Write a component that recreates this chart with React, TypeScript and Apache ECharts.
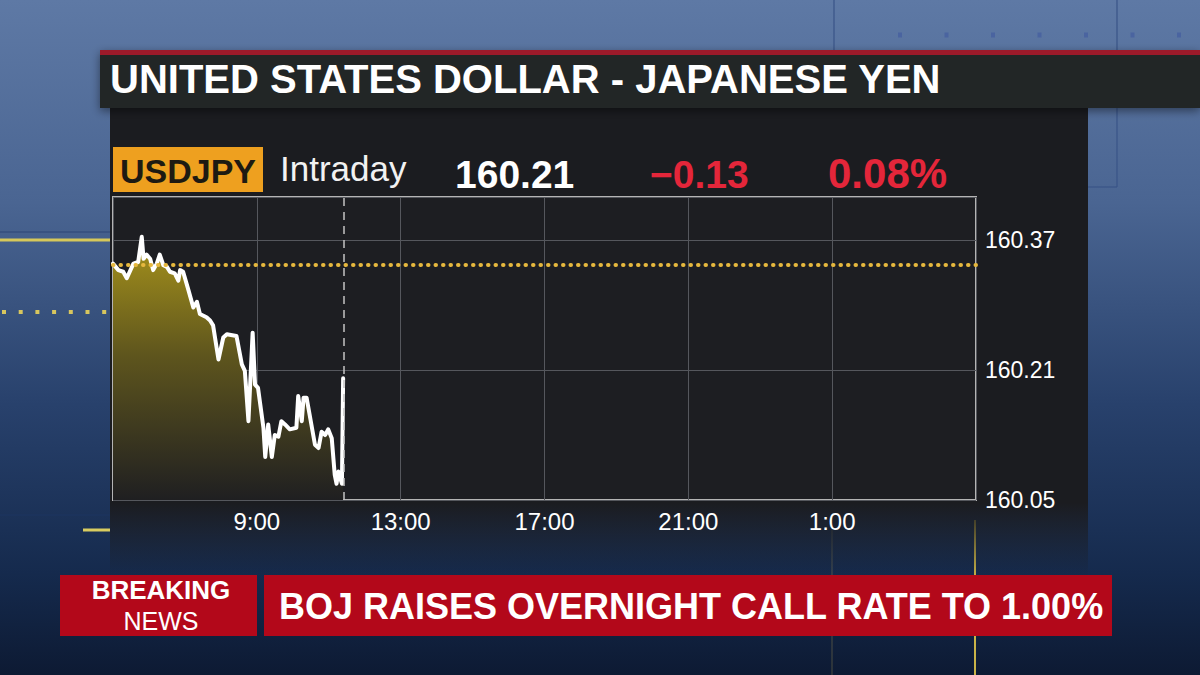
import React, { useEffect, useRef } from "react";
import * as echarts from "echarts";

// ---- Data ----
const times = [
  "05:00", "05:09", "05:17", "05:23", "05:34", "05:42", "05:48", "05:51", "05:56", "06:02",
  "06:07", "06:13", "06:18", "06:24", "06:30", "06:35", "06:43", "06:49", "06:52", "06:57",
  "07:06", "07:14", "07:20", "07:25", "07:36", "07:42", "07:47", "07:56", "08:04", "08:10",
  "08:26", "08:35", "08:40", "08:46", "08:53", "08:57", "09:02", "09:11", "09:14", "09:19",
  "09:25", "09:30", "09:36", "09:41", "09:47", "09:55", "10:06", "10:09", "10:15", "10:18",
  "10:23", "10:37", "10:43", "10:48", "10:54", "10:59", "11:05", "11:10", "11:13", "11:16",
  "11:22", "11:24",
];
const prices = [
  160.341, 160.333, 160.331, 160.323, 160.341, 160.343, 160.374, 160.347, 160.352, 160.347,
  160.333, 160.341, 160.352, 160.339, 160.337, 160.331, 160.329, 160.320, 160.333, 160.331,
  160.308, 160.287, 160.294, 160.279, 160.275, 160.271, 160.265, 160.223, 160.250, 160.254,
  160.252, 160.217, 160.209, 160.147, 160.256, 160.192, 160.188, 160.139, 160.103, 160.143,
  160.103, 160.130, 160.128, 160.147, 160.143, 160.137, 160.139, 160.178, 160.147, 160.176,
  160.176, 160.118, 160.114, 160.134, 160.130, 160.137, 160.126, 160.081, 160.070, 160.085,
  160.070, 160.200,
];
const xTickLabels = ["5:00", "9:00", "13:00", "17:00", "21:00", "1:00", "5:00"];
const yTickValues = [160.05, 160.21, 160.37];
const yAxisMax = 160.423;
const previousClose = 160.34;
const nowTime = "11:25";

const titleText = "UNITED STATES DOLLAR - JAPANESE YEN";
const tickerText = "USDJPY";
const periodText = "Intraday";
const lastPriceText = "160.21";
const netChangeText = "\u22120.13";
const pctChangeText = "0.08%";
const breakingText = "BREAKING";
const newsText = "NEWS";
const headlineText = "BOJ RAISES OVERNIGHT CALL RATE TO 1.00%";

const SESSION_START_MIN = 5 * 60;
const SESSION_LENGTH_MIN = 24 * 60;
const X_STEP = SESSION_LENGTH_MIN / (xTickLabels.length - 1);

function toMinutes(t: string): number {
  const [h, m] = t.split(":").map(Number);
  return (h * 60 + m - SESSION_START_MIN + 1440) % 1440;
}

const FONT = '"Liberation Sans", Arial, Helvetica, sans-serif';

export default function App() {
  const ref = useRef<HTMLDivElement>(null);

  useEffect(() => {
    if (!ref.current) return;
    const chart = echarts.init(ref.current, undefined, { renderer: "svg" });

    const LG = echarts.graphic.LinearGradient;

    const bgLine = (x1: number, y1: number, x2: number, y2: number, stroke: string, lineWidth: number, extra: any = {}) => ({
      type: "line",
      z: -50,
      silent: true,
      shape: { x1, y1, x2, y2 },
      style: { stroke, lineWidth, ...extra },
    });

    const txt = (x: number, y: number, text: string, fill: string, fontSize: number, bold: boolean, align: string) => ({
      type: "text",
      z: 10,
      silent: true,
      x,
      y,
      style: {
        text,
        fill,
        fontFamily: FONT,
        fontWeight: bold ? "bold" : "normal",
        fontSize,
        verticalAlign: "middle",
        align,
      },
    });

    const graphic: any[] = [
      // page background
      {
        type: "rect",
        z: -100,
        silent: true,
        shape: { x: 0, y: 0, width: 1200, height: 675 },
        style: {
          fill: new LG(0, 0, 0, 1, [
            { offset: 0, color: "#5e79a5" },
            { offset: 0.3, color: "#4a6592" },
            { offset: 0.6, color: "#28416c" },
            { offset: 0.85, color: "#152a4d" },
            { offset: 1, color: "#0d1a33" },
          ]),
        },
      },
      // decorative background lines
      bgLine(834, 0, 834, 52, "#3a5488", 1.2),
      bgLine(1117, 0, 1117, 52, "#3a5488", 1.2),
      bgLine(1117, 108, 1117, 187, "#3a5488", 1.2),
      bgLine(1088, 187, 1117, 187, "#3a5488", 1.2),
      bgLine(898, 35, 1200, 35, "#4a64a0", 5, { lineDash: [4, 42.5] }),
      bgLine(0, 232, 110, 232, "#2c4576", 1.2),
      bgLine(0, 240, 110, 240, "#d6c85a", 3),
      bgLine(2, 312, 110, 312, "#d8c65e", 4, { lineDash: [4, 12.7] }),
      bgLine(0, 515, 110, 515, "#1d3460", 1.2),
      bgLine(83, 530, 110, 530, "#d9cc60", 3),
      bgLine(832, 520, 832, 675, "rgba(190,170,90,0.35)", 1),
      bgLine(975, 520, 975, 675, "#c9b348", 2),
      // chart panel
      {
        type: "rect",
        z: -20,
        silent: true,
        shape: { x: 110, y: 108, width: 978, height: 470 },
        style: {
          fill: new LG(0, 0, 0, 1, [
            { offset: 0, color: "#1b1c20" },
            { offset: 0.84, color: "#1b1c20" },
            { offset: 1, color: "rgba(27,28,32,0)" },
          ]),
        },
      },
      // title bar
      {
        type: "rect",
        z: -10,
        silent: true,
        shape: { x: 100, y: 50, width: 1100, height: 58 },
        style: { fill: "#242528", shadowBlur: 10, shadowColor: "rgba(0,0,0,0.45)", shadowOffsetY: 3 },
      },
      {
        type: "rect",
        z: -9,
        silent: true,
        shape: { x: 100, y: 50, width: 1100, height: 5 },
        style: { fill: "#9c1a2a" },
      },
      txt(110, 79, titleText, "#ffffff", 40, true, "left"),
      // ticker row
      {
        type: "rect",
        z: 5,
        silent: true,
        shape: { x: 113, y: 147, width: 150, height: 45 },
        style: { fill: "#eea01f" },
      },
      txt(188, 171, tickerText, "#1d1a12", 34, true, "center"),
      txt(280, 168, periodText, "#f2f2f2", 35, false, "left"),
      txt(455, 174, lastPriceText, "#ffffff", 39, true, "left"),
      txt(650, 174, netChangeText, "#e4263a", 39, true, "left"),
      txt(828, 173, pctChangeText, "#e4263a", 42, true, "left"),
      // breaking news bar
      {
        type: "rect",
        z: 5,
        silent: true,
        shape: { x: 60, y: 575, width: 197, height: 61 },
        style: { fill: "#b3081a" },
      },
      {
        type: "rect",
        z: 5,
        silent: true,
        shape: { x: 264, y: 575, width: 848, height: 61 },
        style: { fill: "#b3081a" },
      },
      txt(161, 590, breakingText, "#ffffff", 26, true, "center"),
      txt(161, 621, newsText, "#ffffff", 25, false, "center"),
      txt(279, 606, headlineText, "#ffffff", 36, true, "left"),
    ];

    const seriesData = times.map((t, i) => [toMinutes(t), prices[i]]);

    chart.setOption({
      animation: false,
      backgroundColor: "transparent",
      graphic,
      grid: {
        left: 113,
        top: 197,
        width: 863,
        height: 303,
        show: true,
        backgroundColor: "#1d1e22",
        borderColor: "#b4b4b4",
        borderWidth: 2,
        z: 0,
      },
      xAxis: {
        type: "value",
        min: 0,
        max: SESSION_LENGTH_MIN,
        interval: X_STEP,
        axisLine: { show: false },
        axisTick: { show: false },
        splitLine: { show: true, lineStyle: { color: "#55575d", width: 1 } },
        axisLabel: {
          show: true,
          showMinLabel: false,
          showMaxLabel: false,
          color: "#ffffff",
          fontFamily: FONT,
          fontSize: 24,
          margin: 9,
          formatter: (v: number) => xTickLabels[Math.round(v / X_STEP)] ?? "",
        },
      },
      yAxis: {
        type: "value",
        position: "right",
        min: yTickValues[0],
        max: yAxisMax,
        interval: yTickValues[1] - yTickValues[0],
        axisLine: { show: false },
        axisTick: { show: false },
        splitLine: { show: true, lineStyle: { color: "#55575d", width: 1 } },
        axisLabel: {
          show: true,
          showMaxLabel: false,
          color: "#ffffff",
          fontFamily: FONT,
          fontSize: 23,
          margin: 9,
          formatter: (v: number) => v.toFixed(2),
        },
      },
      series: [
        {
          type: "line",
          data: seriesData,
          showSymbol: false,
          symbol: "none",
          z: 3,
          lineStyle: { color: "#ffffff", width: 4, join: "round", cap: "round" },
          areaStyle: {
            origin: "start",
            opacity: 1,
            color: new LG(0, 0, 0, 1, [
              { offset: 0, color: "#a8941c" },
              { offset: 0.45, color: "#5e551d" },
              { offset: 1, color: "#1f1f21" },
            ]),
          },
          markLine: {
            silent: true,
            symbol: ["none", "none"],
            label: { show: false },
            data: [
              {
                yAxis: previousClose,
                lineStyle: { color: "#e6b83e", width: 4, type: [0.5, 7], cap: "round" },
              },
              {
                xAxis: toMinutes(nowTime),
                lineStyle: { color: "#c4c4c4", width: 1.5, type: [8, 6] },
              },
            ],
          },
        },
      ],
    });

    return () => chart.dispose();
  }, []);

  return (
    <div
      ref={ref}
      style={{ position: "absolute", left: 0, top: 0, width: 1200, height: 675 }}
    />
  );
}
